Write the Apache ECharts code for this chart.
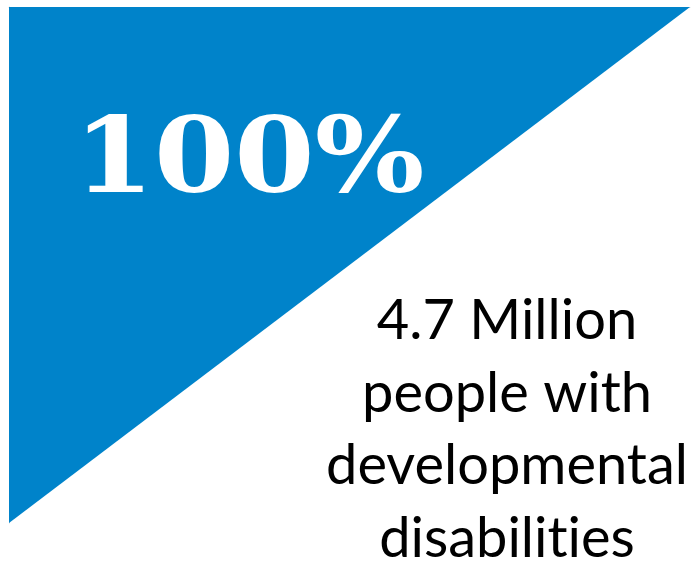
<!DOCTYPE html>
<html>
<head>
<meta charset="utf-8">
<script src="https://cdn.jsdelivr.net/npm/echarts@6/dist/echarts.min.js"></script>
<style>
html,body{margin:0;padding:0;background:#fff;}
#chart{width:691px;height:580px;}
</style>
</head>
<body>
<div id="chart"></div>
<script>
// Data
const shareValue = 100;               // percent
const shareLabel = '100%';
const countLines = ['4.7 Million', 'people with', 'developmental', 'disabilities'];
// Diagonal boundary of the blue share triangle (x, y in unit space)
const diagonal = [[0, 0], [1, 1]];

const chart = echarts.init(document.getElementById('chart'), null, {renderer: 'canvas'});
const blue = '#0083CA';
// avoid the font's "ti" ligature so the glyphs look like the reference
const noLig = s => s.replace(/t(?=i)/g, 't\u200C');

const option = {
  backgroundColor: '#ffffff',
  animation: false,
  grid: {left: 9, top: 7, width: 681, height: 516, containLabel: false},
  xAxis: {
    type: 'value', min: 0, max: 1, position: 'top',
    axisLine: {show: true, onZero: false, lineStyle: {color: '#d4dde4', width: 1}},
    axisTick: {show: false}, axisLabel: {show: false}, splitLine: {show: false}
  },
  yAxis: {
    type: 'value', min: 0, max: 1,
    axisLine: {show: true, onZero: false, lineStyle: {color: '#d4dde4', width: 1}},
    axisTick: {show: false}, axisLabel: {show: false}, splitLine: {show: false}
  },
  series: [{
    type: 'line',
    data: diagonal,
    showSymbol: false,
    lineStyle: {width: 0, color: blue},
    areaStyle: {origin: 'end', color: blue, opacity: 1},
    z: 3
  }],
  graphic: [
    {
      type: 'text', z: 10,
      x: 249, y: 165, scaleX: 1.11, scaleY: 1.0,
      style: {
        text: shareLabel, x: 0, y: 0,
        align: 'center', verticalAlign: 'middle',
        font: 'bold 104px "DejaVu Serif"', fill: '#ffffff'
      }
    },
    ...countLines.map((t, i) => ({
      type: 'text', z: 10,
      style: {
        text: noLig(t), x: 507, y: 321 + i * 72.5,
        align: 'center', verticalAlign: 'middle',
        font: '56px Lato', fill: '#000000'
      }
    }))
  ]
};
chart.setOption(option);
</script>
</body>
</html>
